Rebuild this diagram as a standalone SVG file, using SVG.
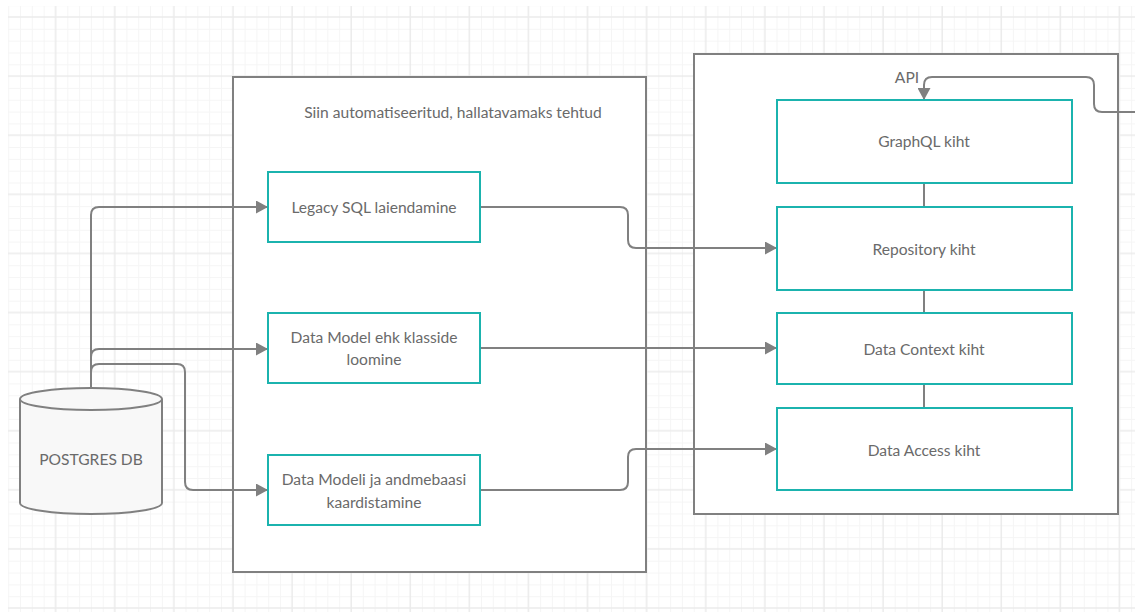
<svg xmlns="http://www.w3.org/2000/svg" width="1135" height="612" viewBox="0 0 1135 612">
  <defs>
    <pattern id="grid" patternUnits="userSpaceOnUse" x="8.2" y="5.2" width="59.1" height="59.1">
      <g stroke="#f5f5f5" stroke-width="1">
        <line x1="0.5" y1="0" x2="0.5" y2="59.1"/>
        <line x1="12.3" y1="0" x2="12.3" y2="59.1"/>
        <line x1="24.1" y1="0" x2="24.1" y2="59.1"/>
        <line x1="35.9" y1="0" x2="35.9" y2="59.1"/>
        <line x1="0" y1="0.5" x2="59.1" y2="0.5"/>
        <line x1="0" y1="24.1" x2="59.1" y2="24.1"/>
        <line x1="0" y1="35.9" x2="59.1" y2="35.9"/>
        <line x1="0" y1="47.7" x2="59.1" y2="47.7"/>
      </g>
      <g stroke="#ebebeb" stroke-width="1.5">
        <line x1="47.5" y1="0" x2="47.5" y2="59.1"/>
        <line x1="0" y1="11.9" x2="59.1" y2="11.9"/>
      </g>
    </pattern>
    <marker id="arrow" markerUnits="userSpaceOnUse" markerWidth="12" markerHeight="13" refX="12" refY="6.5" orient="auto">
      <path d="M0,0 L12,6.5 L0,13 Z" fill="#808080"/>
    </marker>
    <style>
      .container { fill: #ffffff; stroke: #808080; stroke-width: 2; }
      .box { fill: #ffffff; stroke: #1bb3ae; stroke-width: 2; }
      .lbl { font-family: Lato, "Liberation Sans", sans-serif; font-size: 15.6px; fill: #6a6a6a; text-anchor: middle; }
      .conn { fill: none; stroke: #808080; stroke-width: 2; }
      .db { fill: #f8f8f8; stroke: #808080; stroke-width: 2; }
    </style>
  </defs>

  <rect x="0" y="0" width="1135" height="612" fill="#ffffff"/>
  <rect x="8" y="6" width="1127" height="606" fill="url(#grid)"/>

  <g id="container-left">
    <rect class="container" x="233" y="77" width="413" height="495"/>
    <text class="lbl" x="453" y="118">Siin automatiseeritud, hallatavamaks tehtud</text>
  </g>

  <g id="container-api">
    <rect class="container" x="694" y="54" width="424" height="460"/>
    <text class="lbl" x="907" y="83">API</text>
  </g>

  <g id="connectors">
    <path class="conn" d="M91,388 V215 Q91,207 99,207 H268" marker-end="url(#arrow)"/>
    <path class="conn" d="M91,388 V357 Q91,349 99,349 H268" marker-end="url(#arrow)"/>
    <path class="conn" d="M91,388 V372 Q91,364 99,364 H177 Q185,364 185,372 V482 Q185,490 193,490 H268" marker-end="url(#arrow)"/>
    <path class="conn" d="M480,207 H620 Q628,207 628,215 V240 Q628,248 636,248 H777" marker-end="url(#arrow)"/>
    <path class="conn" d="M480,348 H777" marker-end="url(#arrow)"/>
    <path class="conn" d="M480,490 H620 Q628,490 628,482 V457 Q628,449 636,449 H777" marker-end="url(#arrow)"/>
    <path class="conn" d="M1135,112 H1102 Q1094,112 1094,104 V85 Q1094,77 1086,77 H932 Q924,77 924,85 V100" marker-end="url(#arrow)"/>
    <path class="conn" d="M924,183 V207"/>
    <path class="conn" d="M924,290 V313"/>
    <path class="conn" d="M924,384 V408"/>
  </g>

  <g id="postgres">
    <path class="db" d="M20,399 A71,11 0 0 1 162,399 V503 A71,11 0 0 1 20,503 Z"/>
    <path class="conn" d="M20,399 A71,11 0 0 0 162,399"/>
    <text class="lbl" x="91" y="465">POSTGRES DB</text>
  </g>

  <g id="legacy-sql">
    <rect class="box" x="268" y="172" width="212" height="70"/>
    <text class="lbl" x="374" y="213">Legacy SQL laiendamine</text>
  </g>

  <g id="data-model">
    <rect class="box" x="268" y="313" width="212" height="70"/>
    <text class="lbl" x="374" y="343">Data Model ehk klasside</text>
    <text class="lbl" x="374" y="365">loomine</text>
  </g>

  <g id="data-mapping">
    <rect class="box" x="268" y="455" width="212" height="70"/>
    <text class="lbl" x="374" y="485">Data Modeli ja andmebaasi</text>
    <text class="lbl" x="374" y="508">kaardistamine</text>
  </g>

  <g id="graphql">
    <rect class="box" x="777" y="100" width="295" height="83"/>
    <text class="lbl" x="924" y="147">GraphQL kiht</text>
  </g>

  <g id="repository">
    <rect class="box" x="777" y="207" width="295" height="83"/>
    <text class="lbl" x="924" y="255">Repository kiht</text>
  </g>

  <g id="data-context">
    <rect class="box" x="777" y="313" width="295" height="71"/>
    <text class="lbl" x="924" y="355">Data Context kiht</text>
  </g>

  <g id="data-access">
    <rect class="box" x="777" y="408" width="295" height="82"/>
    <text class="lbl" x="924" y="456">Data Access kiht</text>
  </g>
</svg>
